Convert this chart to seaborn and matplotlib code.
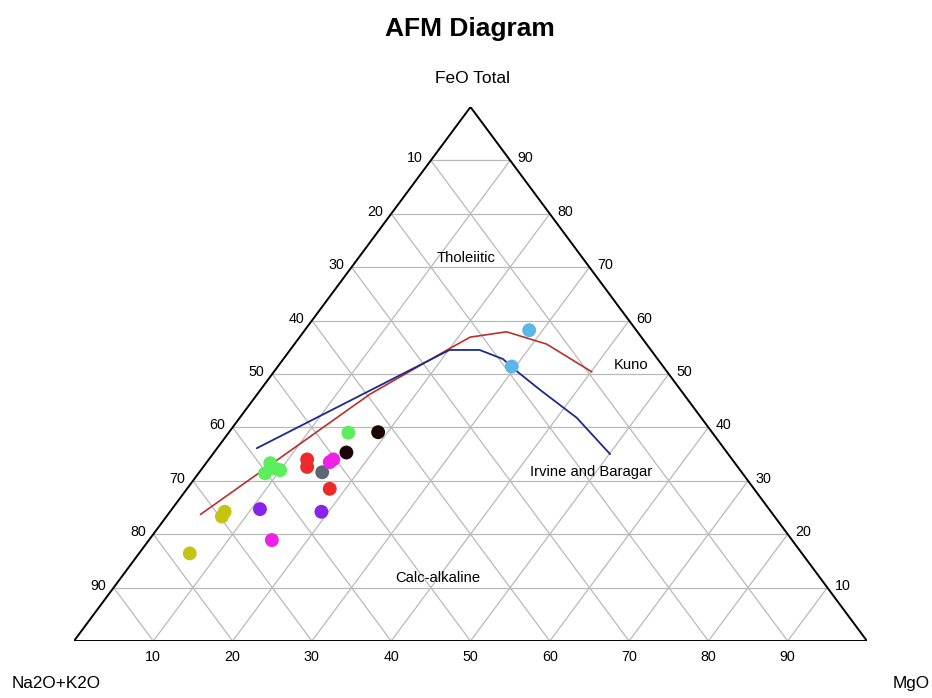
import numpy as np
import pandas as pd
import matplotlib
matplotlib.use("Agg")
import matplotlib.pyplot as plt
import seaborn as sns

# ---- sample compositions (Na2O+K2O, FeO total, MgO; wt% normalised) ----
sample_group = ["A", "A",
                "B", "B", "B", "B", "B",
                "C", "C",
                "D", "D", "D",
                "E",
                "F", "F", "F",
                "G", "G",
                "H", "H", "H"]
sample_alk = [13.5, 19.1,
              45.9, 60.2, 58.6, 58.5, 58.0,
              42.1, 48.0,
              53.6, 54.3, 53.5,
              52.9,
              50.3, 51.0, 65.6,
              64.2, 56.7,
              68.9, 69.7, 77.2]
sample_feo = [58.2, 51.4,
              39.0, 31.4, 33.3, 32.3, 32.0,
              39.1, 35.3,
              34.0, 32.6, 28.5,
              31.6,
              34.0, 33.5, 18.9,
              24.7, 24.2,
              24.2, 23.3, 16.4]
sample_mgo = [28.3, 29.5,
              15.1, 8.4, 8.1, 9.2, 10.0,
              18.8, 16.7,
              12.4, 13.1, 18.0,
              15.5,
              15.7, 15.5, 15.5,
              11.1, 19.1,
              6.9, 7.0, 6.4]
group_colors = {"A": "#5db7e6", "B": "#5cee5c", "C": "#1c0404",
                "D": "#ec2a2a", "E": "#5e6670", "F": "#ee22e6",
                "G": "#8a22ee", "H": "#c4c414"}

# ---- tholeiitic / calc-alkaline boundaries ----
irvine_alk = [58.9, 25.4, 21.6, 19.5, 19.1, 17.7, 15.7, 14.9]
irvine_feo = [36.1, 54.5, 54.5, 52.8, 51.1, 47.0, 41.8, 35.0]
irvine_mgo = [5.0, 20.1, 23.9, 27.7, 29.8, 35.3, 42.5, 50.1]

kuno_alk = [72.2, 39.6, 25.7, 21.6, 16.5, 12.6, 9.5]
kuno_feo = [23.7, 46.2, 54.5, 56.9, 57.9, 55.6, 50.4]
kuno_mgo = [4.1, 14.2, 19.8, 21.5, 25.6, 31.8, 40.1]

tick_values = [10, 20, 30, 40, 50, 60, 70, 80, 90]


def to_xy(a, f, m):
    a, f, m = (np.asarray(v, dtype=float) for v in (a, f, m))
    s = a + f + m
    y = f / s
    x = m / s + y / 2.0
    return x, y


sns.set_style("white")
plt.rcParams["font.family"] = ["Liberation Sans", "DejaVu Sans"]
plt.rcParams["text.color"] = "black"

W, H = 932, 698
fig = plt.figure(figsize=(W / 100, H / 100), dpi=100)
fig.patch.set_facecolor("white")
ax = fig.add_axes([74 / W, 57 / H, 793 / W, 534 / H])
ax.set_xlim(0, 1)
ax.set_ylim(0, 1)
ax.axis("off")

# grid inside the triangle
grid_kw = dict(color="#b9b9b9", lw=0.9, zorder=1)
for k in tick_values:
    r = 100 - k
    gx, gy = to_xy([r, 0], [k, k], [0, r])          # constant FeO
    ax.plot(gx, gy, **grid_kw)
    gx, gy = to_xy([r, 0], [0, r], [k, k])          # constant MgO
    ax.plot(gx, gy, **grid_kw)
    gx, gy = to_xy([k, k], [0, r], [r, 0])          # constant alkalis
    ax.plot(gx, gy, **grid_kw)

# triangle outline
tx, ty = to_xy([100, 0, 0, 100], [0, 0, 100, 0], [0, 100, 0, 0])
ax.plot(tx, ty, color="black", lw=1.4, zorder=3, solid_joinstyle="miter")

# boundary curves
kx, ky = to_xy(kuno_alk, kuno_feo, kuno_mgo)
ix, iy = to_xy(irvine_alk, irvine_feo, irvine_mgo)
sns.lineplot(x=kx, y=ky, sort=False, estimator=None, color="#b8302c",
             lw=1.2, ax=ax, zorder=4)
sns.lineplot(x=ix, y=iy, sort=False, estimator=None, color="#1e2a8a",
             lw=1.3, ax=ax, zorder=4)

# samples
sx, sy = to_xy(sample_alk, sample_feo, sample_mgo)
df = pd.DataFrame({"x": sx, "y": sy, "group": sample_group})
sns.scatterplot(data=df, x="x", y="y", hue="group", palette=group_colors,
                s=100, linewidth=0, legend=False, ax=ax, zorder=5)
ax.set_xlabel("")
ax.set_ylabel("")

# tick labels
tick_fs = 10.3
for k in tick_values:
    lx, ly = to_xy(k, 100 - k, 0)
    ax.annotate(str(k), (lx, ly), xytext=(-5.5, 1.4), textcoords="offset points",
                ha="right", va="center", fontsize=tick_fs, annotation_clip=False)
    rx, ry = to_xy(0, k, 100 - k)
    ax.annotate(str(k), (rx, ry), xytext=(5.5, 1.4), textcoords="offset points",
                ha="left", va="center", fontsize=tick_fs, annotation_clip=False)
    bx, by = to_xy(100 - k, 0, k)
    ax.annotate(str(k), (bx, by), xytext=(0, -11.5), textcoords="offset points",
                ha="center", va="center", fontsize=tick_fs, annotation_clip=False)

# field labels
region_fs = 10.6
ax.text(0.494, 0.717, "Tholeiitic", ha="center", va="center", fontsize=region_fs)
ax.text(0.702, 0.517, "Kuno", ha="center", va="center", fontsize=region_fs)
ax.text(0.652, 0.3165, "Irvine and Baragar", ha="center", va="center", fontsize=region_fs)
ax.text(0.459, 0.118, "Calc-alkaline", ha="center", va="center", fontsize=region_fs)

# apex titles
ax.text(0.502, 1.054, "FeO Total", ha="center", va="center", fontsize=12.5, clip_on=False)
ax.text(-0.0227, -0.0787, "Na2O+K2O", ha="center", va="center", fontsize=12.3, clip_on=False)
ax.text(1.056, -0.0787, "MgO", ha="center", va="center", fontsize=12.3, clip_on=False)

fig.text(470 / W, 1 - 29 / H, "AFM Diagram", ha="center", va="center",
         fontsize=19, fontweight="bold")

fig.savefig("out.png", dpi=100, facecolor="white")
